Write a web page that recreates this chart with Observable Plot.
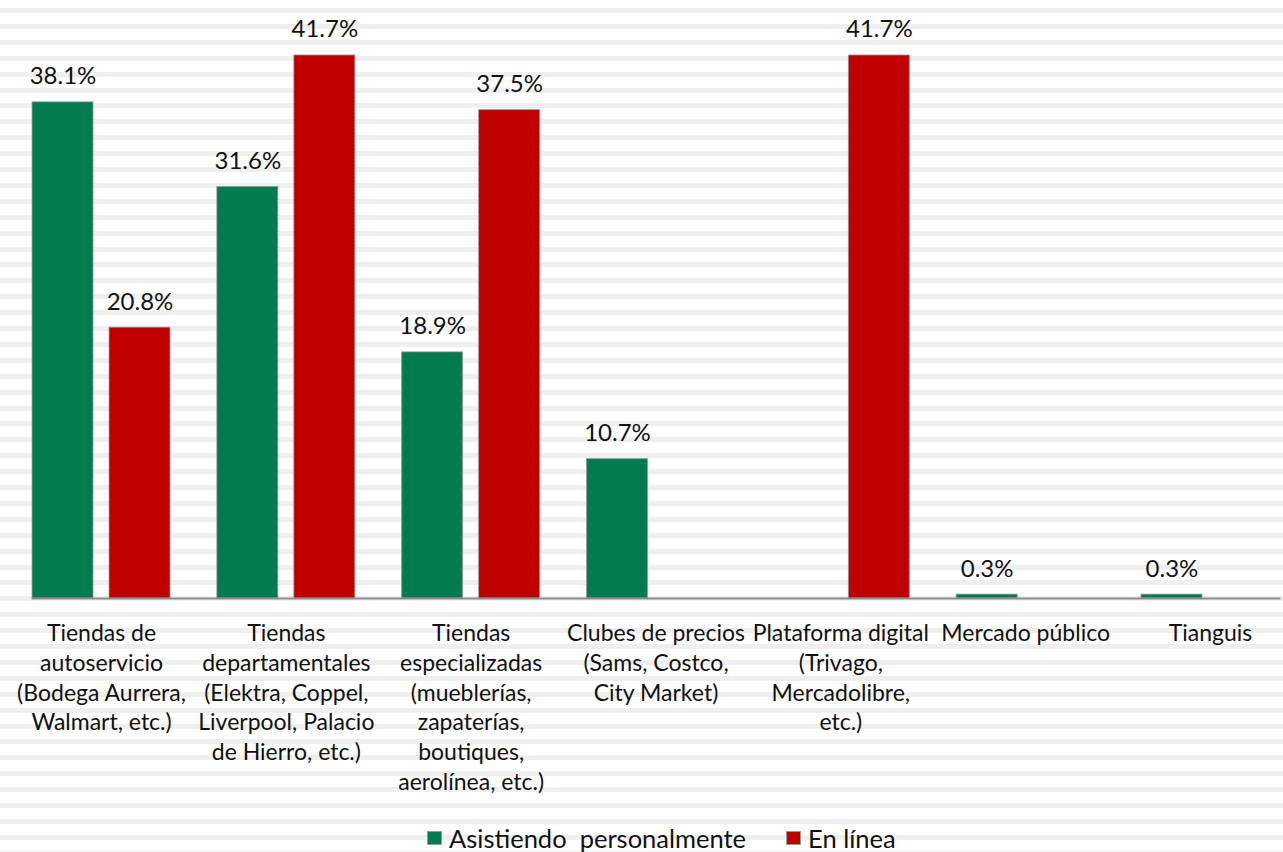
<!DOCTYPE html>
<html>
<head>
<meta charset="utf-8">
<script src="https://cdn.jsdelivr.net/npm/d3@7"></script>
<script src="https://cdn.jsdelivr.net/npm/@observablehq/plot@0.6"></script>
<style>
html, body { margin: 0; padding: 0; width: 1283px; height: 852px; overflow: hidden; }
body {
  background: repeating-linear-gradient(to bottom, #ffffff 0px, #ffffff 8px, #efefef 8px, #efefef 13px, #ffffff 13px, #ffffff 15.9px);
  font-family: Lato, "Open Sans", sans-serif;
  color: #111;
}
#chart svg { display: block; }
#legend { position: relative; height: 37px; display: flex; align-items: flex-start; padding-left: 427px; padding-top: 13px; box-sizing: border-box; }
#legend .item { display: flex; align-items: center; margin-right: 40px; }
#legend .sw { width: 15px; height: 14px; margin-right: 7px; box-sizing: border-box; border: 1px solid #999; }
#legend .lab { font-size: 25.5px; white-space: pre; line-height: 20px; }
</style>
</head>
<body>
<div id="chart"></div>
<div id="legend"></div>
<script>
const categories = [
  "Tiendas de autoservicio",
  "Tiendas departamentales",
  "Tiendas especializadas",
  "Clubes de precios",
  "Plataforma digital",
  "Mercado público",
  "Tianguis"
];
const categoryLabels = [
  "Tiendas de\nautoservicio\n(Bodega Aurrera,\nWalmart, etc.)",
  "Tiendas\ndepartamentales\n(Elektra, Coppel,\nLiverpool, Palacio\nde Hierro, etc.)",
  "Tiendas\nespecializadas\n(mueblerías,\nzapaterías,\nboutiques,\naerolínea, etc.)",
  "Clubes de precios\n(Sams, Costco,\nCity Market)",
  "Plataforma digital\n(Trivago,\nMercadolibre,\netc.)",
  "Mercado público",
  "Tianguis"
];
const seriesNames = ["Asistiendo  personalmente", "En línea"];
const asistiendo = [38.1, 31.6, 18.9, 10.7, null, 0.3, 0.3];
const enLinea = [20.8, 41.7, 37.5, null, 41.7, null, null];
const seriesColors = ["#017B4F", "#C00000"];

const seriesValues = [asistiendo, enLinea];
const rows = [];
categories.forEach((c, i) => {
  seriesValues.forEach((vals, s) => {
    if (vals[i] != null) rows.push({cat: c, series: seriesNames[s], value: vals[i]});
  });
});
const labelOf = new Map(categories.map((c, i) => [c, categoryLabels[i]]));

const chart = Plot.plot({
  width: 1283,
  height: 815,
  marginLeft: 8,
  marginRight: 0,
  marginTop: 12,
  marginBottom: 217,
  style: {background: "transparent", fontFamily: "Lato, 'Open Sans', sans-serif", color: "#111", overflow: "visible"},
  fx: {domain: categories, range: [8.6, 1302.4], paddingInner: 0.2534, paddingOuter: 0.1267, round: false, axis: null},
  x: {domain: seriesNames, paddingInner: 0.2078, paddingOuter: 0, round: false, axis: null},
  y: {domain: [0, 45], axis: null},
  color: {domain: seriesNames, range: seriesColors},
  marks: [
    Plot.barY(rows, {fx: "cat", x: "series", y: "value", fill: "series", stroke: "#9a9a9a", strokeWidth: 0.8}),
    Plot.text(rows, {fx: "cat", x: "series", y: "value", text: d => d.value.toFixed(1) + "%", lineAnchor: "bottom", dy: -18, fontSize: 24, fill: "#111"}),
    Plot.text(categories, {fx: d => d, text: d => labelOf.get(d), frameAnchor: "bottom", lineAnchor: "top", dy: 21, fontSize: 23, lineHeight: 1.3, fill: "#111"}),
    Plot.frame({anchor: "bottom", facet: "super", stroke: "#8c8c8c", strokeWidth: 2})
  ]
});
document.getElementById("chart").appendChild(chart);

const legend = document.getElementById("legend");
seriesNames.forEach((name, i) => {
  const item = document.createElement("div");
  item.className = "item";
  const sw = document.createElement("span");
  sw.className = "sw";
  sw.style.background = seriesColors[i];
  const lab = document.createElement("span");
  lab.className = "lab";
  lab.textContent = name;
  item.appendChild(sw);
  item.appendChild(lab);
  legend.appendChild(item);
});
</script>
</body>
</html>
